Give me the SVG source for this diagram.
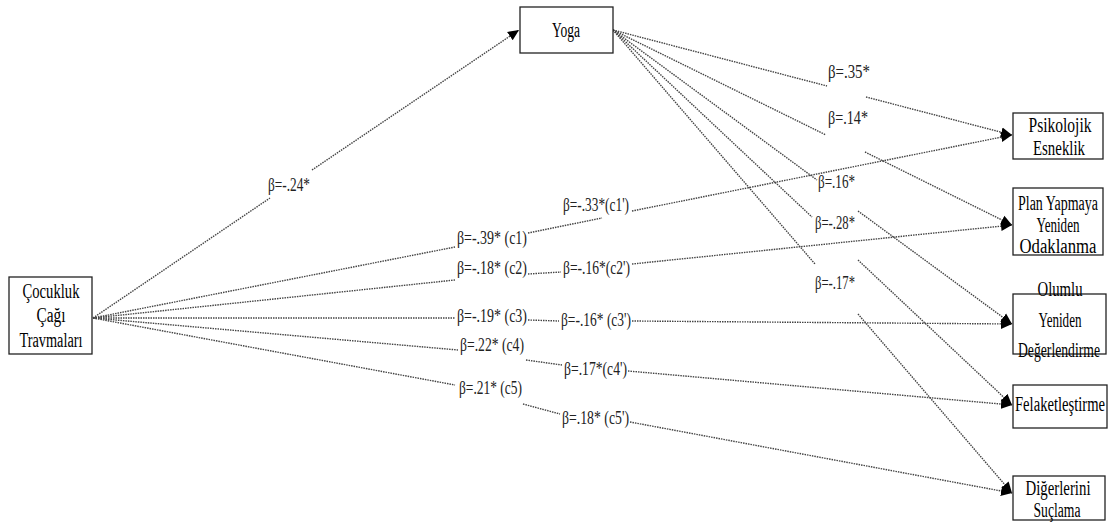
<svg xmlns="http://www.w3.org/2000/svg" width="1110" height="522" viewBox="0 0 1110 522">
<defs>
<marker id="ah" markerUnits="userSpaceOnUse" markerWidth="12" markerHeight="12" viewBox="0 0 12 12" refX="11" refY="6" orient="auto">
<path d="M0,1 L11,6 L0,11 Z" fill="#000"/>
</marker>
<style>
.box{fill:#fff;stroke:#222;stroke-width:1.3}
.t{font-family:'Liberation Serif','DejaVu Serif',serif;font-size:20px;fill:#000;text-anchor:middle}
.l{font-family:'Liberation Serif','DejaVu Serif',serif;font-size:18px;fill:#222}
.c{fill:none;stroke:#444;stroke-width:1.4;stroke-dasharray:1.5 1}
.a{marker-end:url(#ah)}
</style>
</defs>
<rect width="1110" height="522" fill="#fff"/>
<g id="connectors">
<path class="c" d="M93,318 L270,198"/>
<path class="c a" d="M312,170 L519,30"/>
<path class="c" d="M613,30 L827,86"/>
<path class="c a" d="M866,97 L1012,135"/>
<path class="c" d="M613,30 L826,135"/>
<path class="c a" d="M865,152 L1012,225"/>
<path class="c" d="M613,30 L817,180"/>
<path class="c a" d="M858,211 L1012,324"/>
<path class="c" d="M613,30 L812,217"/>
<path class="c a" d="M858,260 L1012,405"/>
<path class="c" d="M613,30 L815,264"/>
<path class="c a" d="M858,314 L1012,493"/>
<path class="c" d="M93,318 L455,247"/>
<path class="c" d="M528,233 L602,218"/>
<path class="c a" d="M632,211 L1012,135"/>
<path class="c" d="M93,318 L455,280"/>
<path class="c" d="M528,274 L561,272"/>
<path class="c a" d="M632,264 L1012,225"/>
<path class="c" d="M93,318 L455,318"/>
<path class="c" d="M528,320 L559,321"/>
<path class="c a" d="M632,321 L1012,324"/>
<path class="c" d="M93,318 L458,350"/>
<path class="c" d="M526,360 L562,365"/>
<path class="c a" d="M628,371 L1012,405"/>
<path class="c" d="M93,318 L455,385"/>
<path class="c" d="M523,404 L560,414"/>
<path class="c a" d="M630,422 L1012,493"/>
</g>
<g id="labels">
<text class="l" x="268" y="191" textLength="42" lengthAdjust="spacingAndGlyphs">β=-.24*</text>
<text class="l" x="828" y="78" textLength="42" lengthAdjust="spacingAndGlyphs">β=.35*</text>
<text class="l" x="828" y="124" textLength="40" lengthAdjust="spacingAndGlyphs">β=.14*</text>
<text class="l" x="818" y="188" textLength="37" lengthAdjust="spacingAndGlyphs">β=.16*</text>
<text class="l" x="815" y="229" textLength="40" lengthAdjust="spacingAndGlyphs">β=-.28*</text>
<text class="l" x="815" y="289" textLength="40" lengthAdjust="spacingAndGlyphs">β=-.17*</text>
<text class="l" x="563" y="211" textLength="66" lengthAdjust="spacingAndGlyphs">β=-.33*(c1')</text>
<text class="l" x="457" y="244" textLength="70" lengthAdjust="spacingAndGlyphs">β=-.39* (c1)</text>
<text class="l" x="457" y="274" textLength="70" lengthAdjust="spacingAndGlyphs">β=-.18* (c2)</text>
<text class="l" x="563" y="274" textLength="67" lengthAdjust="spacingAndGlyphs">β=-.16*(c2')</text>
<text class="l" x="457" y="322" textLength="70" lengthAdjust="spacingAndGlyphs">β=-.19* (c3)</text>
<text class="l" x="561" y="326" textLength="70" lengthAdjust="spacingAndGlyphs">β=-.16* (c3')</text>
<text class="l" x="460" y="351" textLength="64" lengthAdjust="spacingAndGlyphs">β=.22* (c4)</text>
<text class="l" x="564" y="375" textLength="63" lengthAdjust="spacingAndGlyphs">β=.17*(c4')</text>
<text class="l" x="459" y="394" textLength="63" lengthAdjust="spacingAndGlyphs">β=.21* (c5)</text>
<text class="l" x="562" y="424" textLength="67" lengthAdjust="spacingAndGlyphs">β=.18* (c5')</text>
</g>
<g id="trauma">
<rect class="box" x="9" y="277" width="83" height="77"/>
<text class="t" x="51" y="298" textLength="57" lengthAdjust="spacingAndGlyphs">Çocukluk</text>
<text class="t" x="51" y="322" textLength="29" lengthAdjust="spacingAndGlyphs">Çağı</text>
<text class="t" x="51" y="347" textLength="63" lengthAdjust="spacingAndGlyphs">Travmaları</text>
</g>
<g id="yoga">
<rect class="box" x="520" y="7" width="93" height="46"/>
<text class="t" x="566" y="37" textLength="28" lengthAdjust="spacingAndGlyphs">Yoga</text>
</g>
<g id="psikolojik">
<rect class="box" x="1013" y="113" width="90" height="46"/>
<text class="t" x="1060" y="132" textLength="63" lengthAdjust="spacingAndGlyphs">Psikolojik</text>
<text class="t" x="1059" y="155" textLength="52" lengthAdjust="spacingAndGlyphs">Esneklik</text>
</g>
<g id="plan">
<rect class="box" x="1013" y="188" width="90" height="67"/>
<text class="t" x="1058" y="210" textLength="80" lengthAdjust="spacingAndGlyphs">Plan Yapmaya</text>
<text class="t" x="1058" y="232" textLength="43" lengthAdjust="spacingAndGlyphs">Yeniden</text>
<text class="t" x="1058" y="253" textLength="77" lengthAdjust="spacingAndGlyphs">Odaklanma</text>
</g>
<g id="olumlu">
<rect class="box" x="1013" y="294" width="93" height="60"/>
<text class="t" x="1060" y="296" textLength="45" lengthAdjust="spacingAndGlyphs">Olumlu</text>
<text class="t" x="1060" y="327" textLength="43" lengthAdjust="spacingAndGlyphs">Yeniden</text>
<text class="t" x="1059" y="357" textLength="82" lengthAdjust="spacingAndGlyphs">Değerlendirme</text>
</g>
<g id="felaket">
<rect class="box" x="1013" y="385" width="94" height="43"/>
<text class="t" x="1060" y="411" textLength="90" lengthAdjust="spacingAndGlyphs">Felaketleştirme</text>
</g>
<g id="digerlerini">
<rect class="box" x="1013" y="476" width="92" height="44"/>
<text class="t" x="1058" y="495" textLength="65" lengthAdjust="spacingAndGlyphs">Diğerlerini</text>
<text class="t" x="1057" y="517" textLength="47" lengthAdjust="spacingAndGlyphs">Suçlama</text>
</g>
</svg>
